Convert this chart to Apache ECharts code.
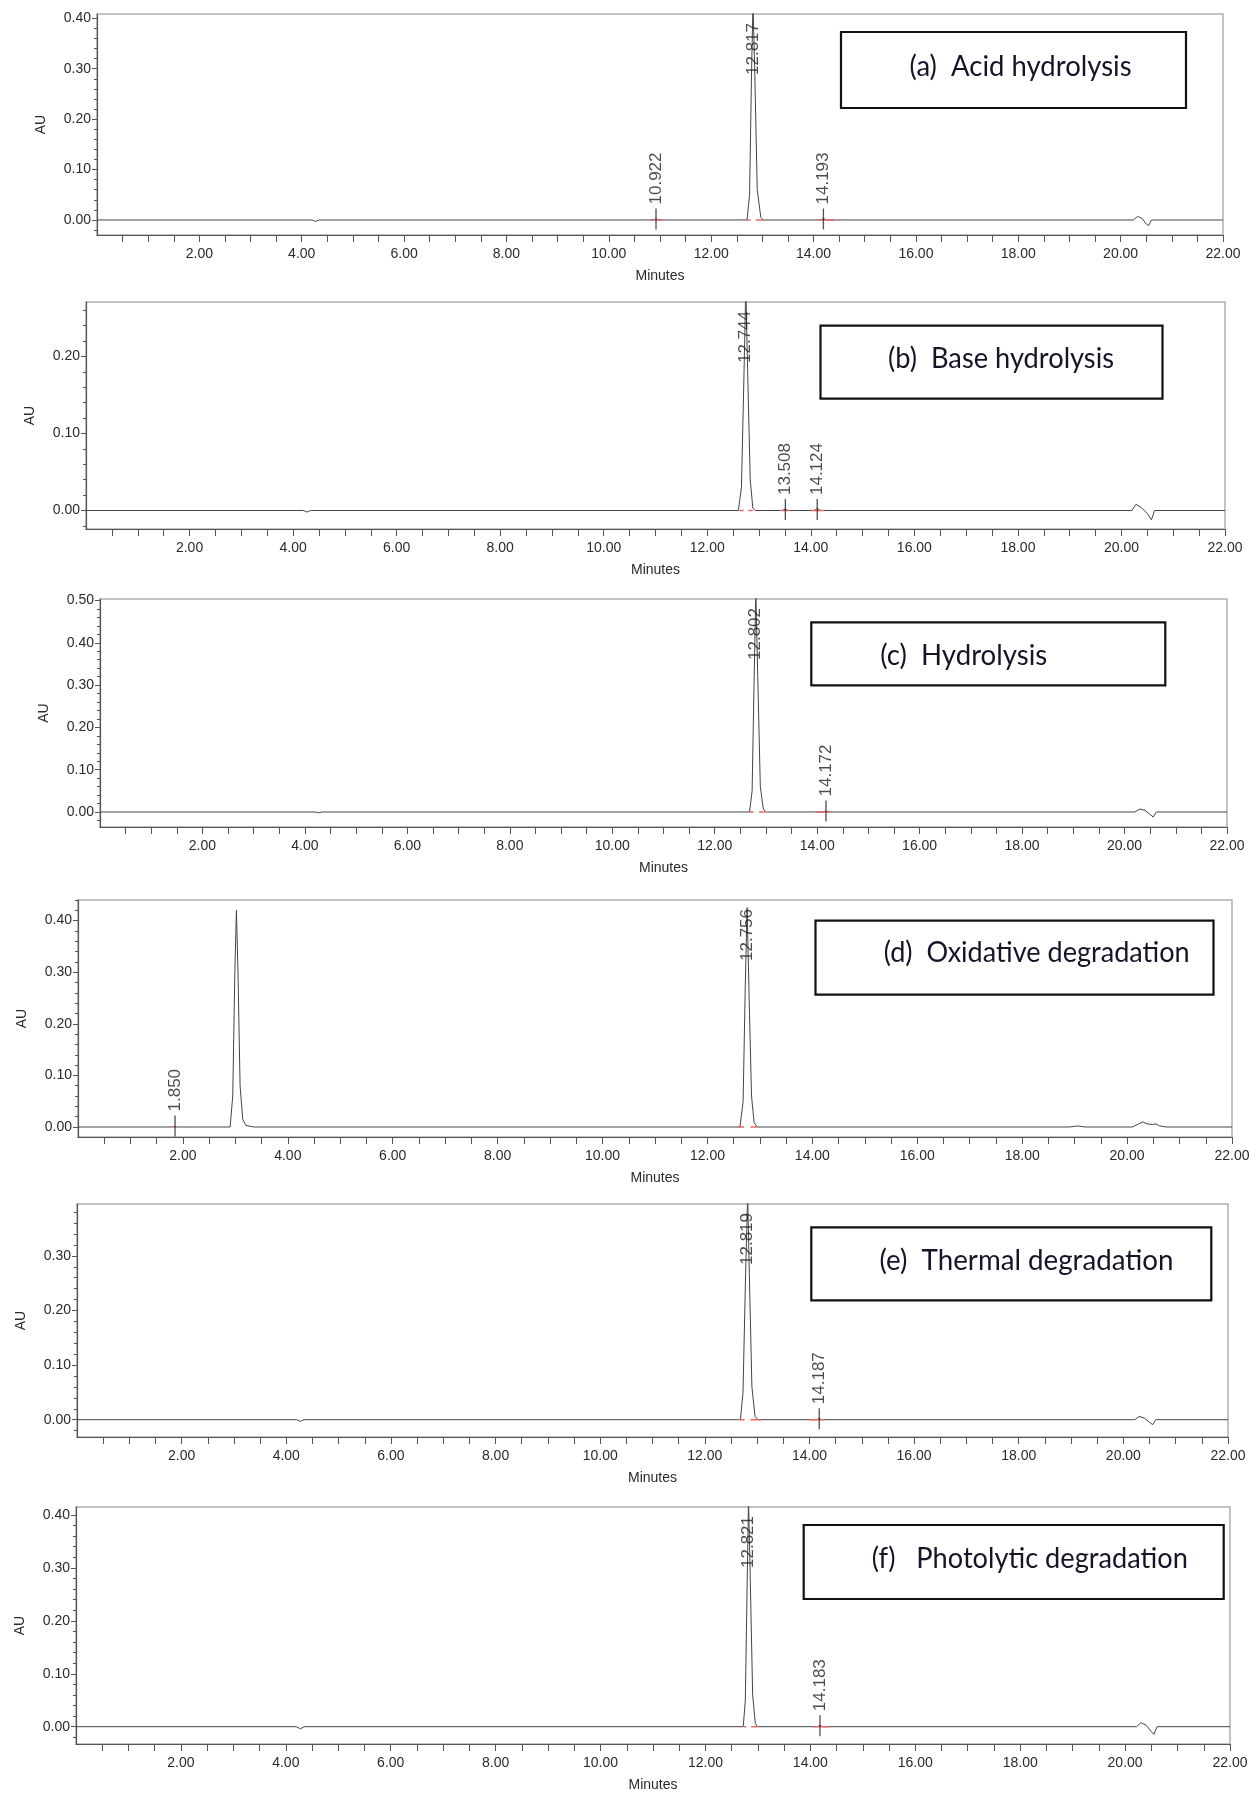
<!DOCTYPE html>
<html>
<head>
<meta charset="utf-8">
<script src="https://cdn.jsdelivr.net/npm/echarts@6/dist/echarts.min.js"></script>
<style>
html,body{margin:0;padding:0;background:#fff;}
#chart{width:1256px;height:1793px;}
</style>
</head>
<body>
<div id="chart"></div>
<script>
// ---------------- DATA ----------------
const panelTitles = [
  '(a)  Acid hydrolysis',
  '(b)  Base hydrolysis',
  '(c)  Hydrolysis',
  '(d)  Oxidative degradation',
  '(e)  Thermal degradation',
  '(f)   Photolytic degradation'
];
const xLabelValues = [2, 4, 6, 8, 10, 12, 14, 16, 18, 20, 22];
const xRange = [0, 22];

// (a) Acid hydrolysis
const traceA = [[0,0],[4.2,0],[4.27,-0.003],[4.34,0],[10.86,0],[10.922,0.002],[10.98,0],
  [12.70,0],[12.75,0.05],[12.79,0.30],[12.817,0.43],[12.85,0.30],[12.90,0.06],[12.97,0.005],[13.02,0],
  [14.14,0],[14.193,0.003],[14.25,0],
  [20.25,0],[20.33,0.007],[20.42,0.003],[20.50,-0.008],[20.55,-0.011],[20.60,0],[22,0]];
const minorPeaksA = [10.922, 14.193];
const mainPeaksA = [12.817];
const redA = [[10.82,11.04],[12.70,12.77],[12.87,13.02],[14.10,14.40]];
const yTicksA = [0, 0.1, 0.2, 0.3, 0.4];
const yRangeA = [-0.0298, 0.4085];

// (b) Base hydrolysis
const traceB = [[0,0],[4.2,0],[4.27,-0.002],[4.34,0],
  [12.60,0],[12.66,0.03],[12.71,0.18],[12.744,0.29],[12.78,0.18],[12.83,0.04],[12.88,0.003],[12.93,0],
  [13.45,0],[13.508,0.002],[13.56,0],[14.07,0],[14.124,0.003],[14.18,0],
  [20.20,0],[20.28,0.008],[20.38,0.004],[20.50,-0.004],[20.58,-0.012],[20.64,0],[22,0]];
const minorPeaksB = [13.508, 14.124];
const mainPeaksB = [12.744];
const redB = [[12.62,12.70],[12.79,12.88],[13.40,13.60],[14.00,14.26]];
const yTicksB = [0, 0.1, 0.2];
const yRangeB = [-0.024, 0.2707];

// (c) Hydrolysis
const traceC = [[0,0],[4.2,0],[4.27,-0.002],[4.34,0],
  [12.68,0],[12.73,0.05],[12.77,0.32],[12.802,0.52],[12.84,0.32],[12.89,0.06],[12.95,0.006],[13.01,0],
  [14.12,0],[14.172,0.002],[14.23,0],
  [20.20,0],[20.30,0.007],[20.40,0.004],[20.50,-0.006],[20.56,-0.012],[20.62,0],[22,0]];
const minorPeaksC = [14.172];
const mainPeaksC = [12.802];
const redC = [[12.68,12.76],[12.86,13.00],[13.97,14.25]];
const yTicksC = [0, 0.1, 0.2, 0.3, 0.4, 0.5];
const yRangeC = [-0.0355, 0.5035];

// (d) Oxidative degradation
const traceD = [[0,0],[1.80,0],[1.85,0.001],[1.90,0],
  [2.90,0],[2.95,0.06],[2.99,0.30],[3.02,0.42],[3.05,0.30],[3.09,0.08],[3.14,0.015],[3.20,0.003],[3.35,0],
  [12.62,0],[12.68,0.05],[12.72,0.27],[12.756,0.425],[12.79,0.27],[12.84,0.06],[12.89,0.008],[12.95,0],
  [18.90,0],[19.05,0.002],[19.20,0],[20.10,0],[20.22,0.006],[20.30,0.01],[20.38,0.006],[20.48,0.005],
  [20.55,0.006],[20.62,0.002],[20.75,0],[22,0]];
const minorPeaksD = [1.850];
const mainPeaksD = [12.756];
const redD = [[1.82,1.88],[12.58,12.70],[12.82,12.95]];
const yTicksD = [0, 0.1, 0.2, 0.3, 0.4];
const yRangeD = [-0.0194, 0.44];

// (e) Thermal degradation
const traceE = [[0,0],[4.2,0],[4.27,-0.003],[4.34,0],
  [12.68,0],[12.73,0.05],[12.78,0.27],[12.819,0.41],[12.85,0.27],[12.90,0.06],[12.96,0.006],[13.02,0],
  [14.13,0],[14.187,0.002],[14.24,0],
  [20.22,0],[20.30,0.006],[20.40,0.003],[20.50,-0.005],[20.56,-0.009],[20.62,0],[22,0]];
const minorPeaksE = [14.187];
const mainPeaksE = [12.819];
const redE = [[12.66,12.76],[12.87,13.08],[14.00,14.28]];
const yTicksE = [0, 0.1, 0.2, 0.3];
const yRangeE = [-0.0317, 0.395];

// (f) Photolytic degradation
const traceF = [[0,0],[4.2,0],[4.28,-0.004],[4.35,0],
  [12.72,0],[12.76,0.05],[12.80,0.30],[12.821,0.43],[12.85,0.30],[12.90,0.06],[12.95,0.006],[12.99,0],
  [14.13,0],[14.183,0.002],[14.24,0],
  [20.22,0],[20.30,0.0075],[20.40,0.003],[20.49,-0.008],[20.55,-0.0145],[20.61,0],[22,0]];
const minorPeaksF = [14.183];
const mainPeaksF = [12.821];
const redF = [[12.73,12.78],[12.87,12.99],[14.05,14.36]];
const yTicksF = [0, 0.1, 0.2, 0.3, 0.4];
const yRangeF = [-0.0327, 0.415];

// ---------------- LAYOUT ----------------
const gridBoxes = [
  {l: 97, r: 1223, t: 14,   b: 235},
  {l: 86, r: 1225, t: 302,  b: 529},
  {l: 100, r: 1227, t: 599, b: 827},
  {l: 78, r: 1232, t: 900,  b: 1137},
  {l: 77, r: 1228, t: 1204, b: 1437},
  {l: 76, r: 1230, t: 1507, b: 1744}
];
const titleBoxes = [
  {x: 841,   y: 32,     w: 345, h: 76,  tx: 909.6, ty: 81,    tw: 222},
  {x: 820.5, y: 325.7,  w: 342, h: 73,  tx: 888,   ty: 373,   tw: 226},
  {x: 811.3, y: 622.3,  w: 354, h: 63,  tx: 880.3, ty: 670,   tw: 167},
  {x: 815.5, y: 920.7,  w: 398, h: 74,  tx: 883.7, ty: 967,   tw: 306},
  {x: 811.3, y: 1227.3, w: 400, h: 73,  tx: 879.5, ty: 1275,  tw: 294},
  {x: 803.7, y: 1525,   w: 420, h: 74,  tx: 871.8, ty: 1573,  tw: 316}
];

const panels = [
  {trace: traceA, minor: minorPeaksA, main: mainPeaksA, red: redA, yTicks: yTicksA, yRange: yRangeA},
  {trace: traceB, minor: minorPeaksB, main: mainPeaksB, red: redB, yTicks: yTicksB, yRange: yRangeB},
  {trace: traceC, minor: minorPeaksC, main: mainPeaksC, red: redC, yTicks: yTicksC, yRange: yRangeC},
  {trace: traceD, minor: minorPeaksD, main: mainPeaksD, red: redD, yTicks: yTicksD, yRange: yRangeD},
  {trace: traceE, minor: minorPeaksE, main: mainPeaksE, red: redE, yTicks: yTicksE, yRange: yRangeE},
  {trace: traceF, minor: minorPeaksF, main: mainPeaksF, red: redF, yTicks: yTicksF, yRange: yRangeF}
];

const FONT = "'Liberation Sans', Arial, sans-serif";
const TITLE_FONT_FAMILY = "Lato, 'Open Sans', sans-serif";
const AXIS_COLOR = '#555';
const TEXT_COLOR = '#2a2a2a';

// minor tick helpers
const xTickValues = [];
for (let v = 0.5; v <= 22.0001; v += 0.5) xTickValues.push(+v.toFixed(2));
function yMinorValues(range) {
  const out = [];
  for (let k = Math.ceil(range[0] / 0.02); k * 0.02 <= range[1] + 1e-9; k++) out.push(+(k * 0.02).toFixed(2));
  return out;
}

const grids = [], xAxes = [], yAxes = [], series = [], graphics = [];

const measureCtx = document.createElement('canvas').getContext('2d');

panels.forEach((p, i) => {
  const g = gridBoxes[i];
  grids.push({
    left: g.l, top: g.t, width: g.r - g.l, height: g.b - g.t,
    show: true, borderColor: '#b0b0b0', borderWidth: 1.5, containLabel: false
  });
  xAxes.push({
    type: 'value', gridIndex: i, min: xRange[0], max: xRange[1],
    name: 'Minutes', nameLocation: 'middle', nameGap: 34,
    nameTextStyle: {fontFamily: FONT, fontSize: 14, color: TEXT_COLOR},
    axisLine: {show: true, onZero: false, lineStyle: {color: AXIS_COLOR, width: 1.2}},
    axisTick: {show: true, length: 7, customValues: xTickValues, lineStyle: {color: AXIS_COLOR, width: 1}},
    axisLabel: {show: true, customValues: xLabelValues, formatter: v => v.toFixed(2), margin: 12,
      fontFamily: FONT, fontSize: 14, color: TEXT_COLOR},
    splitLine: {show: false}
  });
  yAxes.push({
    type: 'value', gridIndex: i, min: p.yRange[0], max: p.yRange[1], position: 'left',
    name: 'AU', nameLocation: 'middle', nameGap: 49,
    nameTextStyle: {fontFamily: FONT, fontSize: 14, color: TEXT_COLOR},
    axisLine: {show: true, onZero: false, lineStyle: {color: AXIS_COLOR, width: 1.2}},
    axisTick: {show: true, length: 5, customValues: p.yTicks, lineStyle: {color: AXIS_COLOR, width: 1}},
    axisLabel: {show: true, customValues: p.yTicks, formatter: v => v.toFixed(2), margin: 6,
      fontFamily: FONT, fontSize: 14, color: TEXT_COLOR},
    splitLine: {show: false}
  });
  yAxes.push({
    type: 'value', gridIndex: i, min: p.yRange[0], max: p.yRange[1], position: 'left',
    axisLine: {show: false},
    axisTick: {show: true, length: 3, customValues: yMinorValues(p.yRange), lineStyle: {color: AXIS_COLOR, width: 1}},
    axisLabel: {show: false},
    splitLine: {show: false}
  });

  // chromatogram trace
  series.push({
    type: 'line', xAxisIndex: i, yAxisIndex: 2 * i, data: p.trace,
    symbol: 'none', showSymbol: false, clip: true, silent: true,
    lineStyle: {color: '#444', width: 1}, z: 3
  });
  // integration marks (red)
  const redData = [];
  p.red.forEach(seg => { redData.push([seg[0], 0], [seg[1], 0], [seg[1], '-']); });
  series.push({
    type: 'line', xAxisIndex: i, yAxisIndex: 2 * i, data: redData,
    symbol: 'none', showSymbol: false, connectNulls: false, silent: true,
    lineStyle: {color: '#e06a6a', width: 1.5}, z: 4
  });
  // minor peak ticks + labels
  series.push({
    type: 'scatter', xAxisIndex: i, yAxisIndex: 2 * i,
    data: p.minor.map(rt => [rt, 0]),
    symbol: 'rect', symbolSize: [1.3, 21], symbolOffset: [0, -1],
    itemStyle: {color: '#222'}, silent: true, z: 5,
    label: {show: true, position: 'top', distance: 4, rotate: 90, align: 'left', verticalAlign: 'middle',
      formatter: d => d.value[0].toFixed(3), fontFamily: FONT, fontSize: 17, color: '#1e1e1e'}
  });
  // main peak labels (near top)
  series.push({
    type: 'scatter', xAxisIndex: i, yAxisIndex: 2 * i,
    data: p.main.map(rt => [rt, p.yRange[1]]),
    symbol: 'rect', symbolSize: 0.01, silent: true, z: 5, clip: false,
    label: {show: true, position: 'bottom', distance: 9, rotate: 90, align: 'right', verticalAlign: 'middle',
      formatter: d => d.value[0].toFixed(3), fontFamily: FONT, fontSize: 17, color: '#1e1e1e'}
  });

  // title boxes
  const tb = titleBoxes[i];
  const fontSize = 29;
  measureCtx.font = fontSize + 'px ' + TITLE_FONT_FAMILY;
  const measured = measureCtx.measureText(panelTitles[i]).width || tb.tw;
  graphics.push({
    type: 'rect', shape: {x: tb.x, y: tb.y, width: tb.w, height: tb.h},
    style: {fill: 'none', stroke: '#111', lineWidth: 2.2}, z: 10, silent: true
  });
  graphics.push({
    type: 'text', x: tb.tx, y: tb.ty, scaleX: tb.tw / measured, scaleY: 1,
    style: {text: panelTitles[i], x: 0, y: 0, fill: '#15152a',
      font: fontSize + 'px ' + TITLE_FONT_FAMILY, textVerticalAlign: 'bottom', verticalAlign: 'bottom'},
    z: 11, silent: true
  });
});

const chart = echarts.init(document.getElementById('chart'), null, {renderer: 'canvas', width: 1256, height: 1793});
chart.setOption({
  backgroundColor: '#fff',
  animation: false,
  grid: grids,
  xAxis: xAxes,
  yAxis: yAxes,
  series: series,
  graphic: graphics
});
</script>
</body>
</html>
